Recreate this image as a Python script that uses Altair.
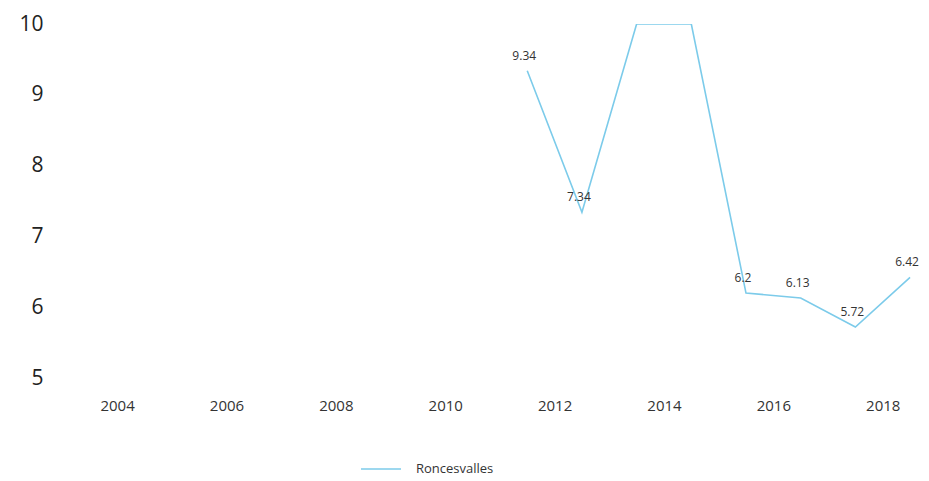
import altair as alt
import pandas as pd

series_name = "Roncesvalles"
years = [2011, 2012, 2013, 2014, 2015, 2016, 2017, 2018]
values = [9.34, 7.34, 10.0, 10.0, 6.2, 6.13, 5.72, 6.42]
point_labels = ["9.34", "7.34", "", "", "6.2", "6.13", "5.72", "6.42"]
x_ticks = [2004, 2006, 2008, 2010, 2012, 2014, 2016, 2018]
y_ticks = [5, 6, 7, 8, 9, 10]

df = pd.DataFrame({"year": years, "value": values, "label": point_labels, "series": series_name})

FONT = "Open Sans"
LINE = "#7ccbea"

x = alt.X("xpos:Q", scale=alt.Scale(domain=[2002.81, 2018.7], nice=False, zero=False),
          axis=alt.Axis(values=x_ticks, format="d", title=None, domain=False, ticks=False, grid=False,
                        labelFontSize=15, labelColor="#333", labelPadding=20, labelFont=FONT))
y = alt.Y("value:Q", scale=alt.Scale(domain=[5, 10], nice=False, zero=False),
          axis=alt.Axis(values=y_ticks, title=None, domain=False, ticks=False, grid=False,
                        labelFontSize=21, labelColor="#222", labelPadding=9, labelFont=FONT))

base = alt.Chart(df).transform_calculate(xpos="datum.year + 0.5")

line = base.mark_line(strokeWidth=1.6, clip=True).encode(
    x=x, y=y,
    color=alt.Color("series:N", scale=alt.Scale(range=[LINE]),
                    legend=alt.Legend(title=None, orient="none", legendX=308, legendY=424,
                                      symbolType="stroke", symbolSize=1600, symbolStrokeWidth=1.6,
                                      labelFontSize=13, labelColor="#333", labelFont=FONT,
                                      labelOffset=14)),
)

labels = base.transform_filter("datum.label != ''").mark_text(
    fontSize=12, color="#333", font=FONT, baseline="bottom", align="center", dx=-3, dy=-8
).encode(x=x, y=y, text="label:N")

chart = (line + labels).properties(
    width=869, height=354,
    autosize=alt.AutoSizeParams(type="none"),
    padding={"left": 44, "top": 16, "right": 0, "bottom": 103},
).configure(font=FONT).configure_view(stroke=None)

chart.save("out.html", embed_options={"renderer": "svg", "actions": False})
